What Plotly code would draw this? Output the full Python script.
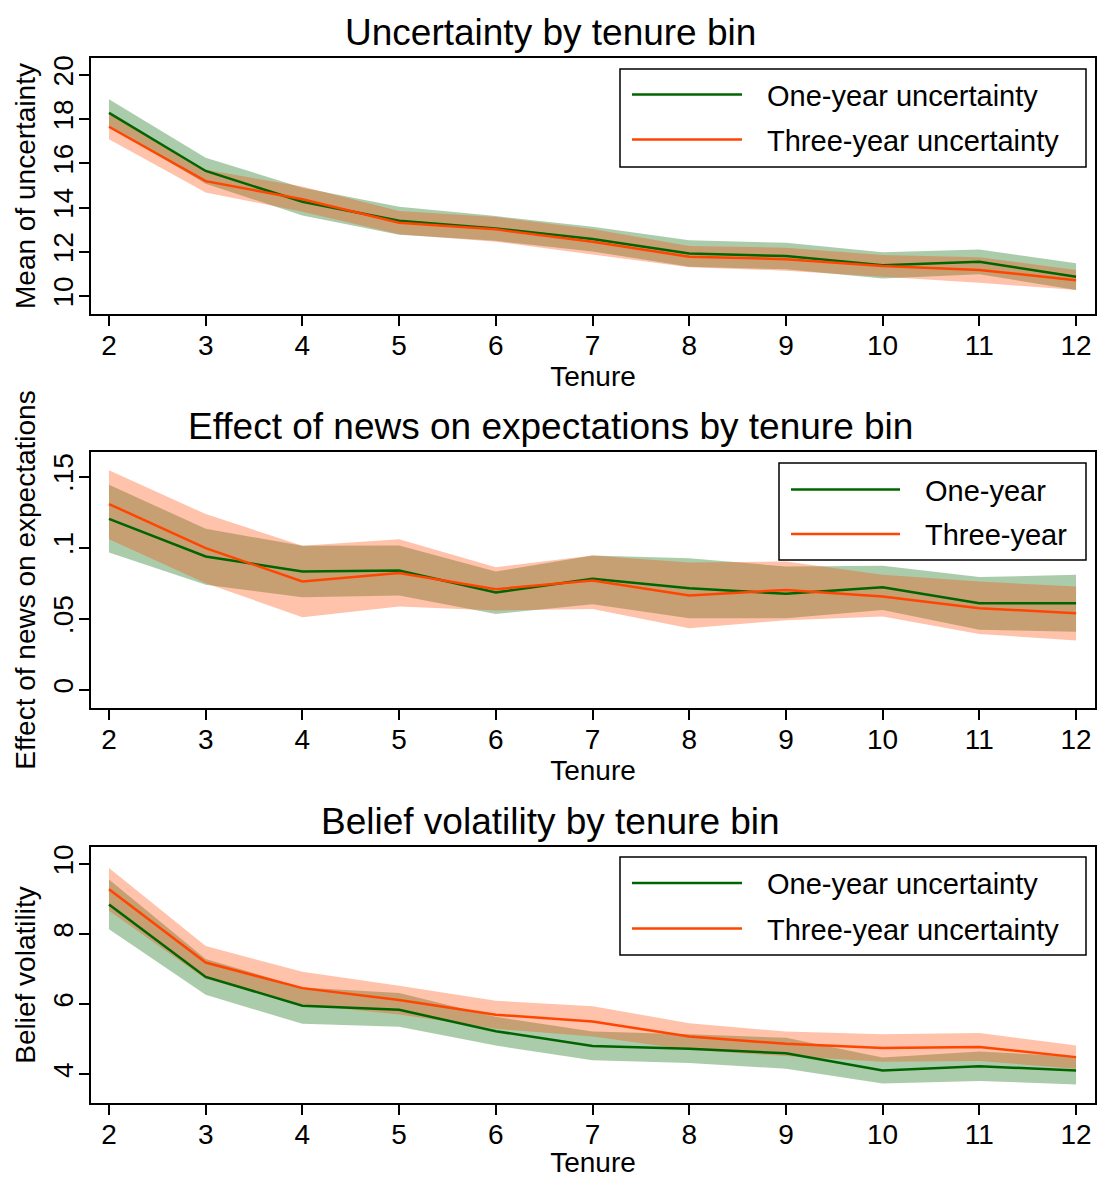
import plotly.graph_objects as go
from plotly.subplots import make_subplots

# ---------------- data ----------------
tenure = [2, 3, 4, 5, 6, 7, 8, 9, 10, 11, 12]

# Panel 1: mean of uncertainty
unc_one = [18.29, 15.66, 14.27, 13.41, 13.06, 12.58, 11.93, 11.81, 11.40, 11.55, 10.87]
unc_one_hi = [18.90, 16.26, 14.90, 14.04, 13.62, 13.14, 12.53, 12.41, 11.98, 12.11, 11.48]
unc_one_lo = [17.68, 15.08, 13.65, 12.78, 12.50, 12.02, 11.33, 11.21, 10.80, 10.99, 10.28]
unc_three = [17.66, 15.20, 14.38, 13.32, 13.02, 12.46, 11.78, 11.67, 11.36, 11.18, 10.72]
unc_three_hi = [18.23, 15.71, 14.96, 13.85, 13.58, 13.04, 12.27, 12.19, 11.86, 11.76, 11.18]
unc_three_lo = [17.09, 14.69, 13.82, 12.80, 12.46, 11.88, 11.30, 11.15, 10.87, 10.60, 10.27]

# Panel 2: effect of news on expectations
eff_one = [0.1204, 0.0939, 0.0833, 0.0840, 0.0685, 0.0782, 0.0716, 0.0676, 0.0723, 0.0610, 0.0610]
eff_one_hi = [0.1444, 0.1134, 0.1014, 0.1016, 0.0833, 0.0946, 0.0927, 0.0869, 0.0873, 0.0794, 0.0810]
eff_one_lo = [0.0967, 0.0740, 0.0653, 0.0664, 0.0535, 0.0603, 0.0505, 0.0505, 0.0563, 0.0423, 0.0410]
eff_three = [0.1308, 0.0998, 0.0763, 0.0822, 0.0709, 0.0770, 0.0664, 0.0704, 0.0657, 0.0575, 0.0540]
eff_three_hi = [0.1545, 0.1237, 0.1014, 0.1061, 0.0864, 0.0946, 0.0897, 0.0904, 0.0810, 0.0763, 0.0728]
eff_three_lo = [0.1060, 0.0751, 0.0512, 0.0587, 0.0559, 0.0570, 0.0434, 0.0490, 0.0516, 0.0394, 0.0347]

# Panel 3: belief volatility
vol_one = [8.85, 6.78, 5.96, 5.84, 5.23, 4.81, 4.73, 4.60, 4.11, 4.23, 4.11]
vol_one_hi = [9.56, 7.29, 6.48, 6.32, 5.64, 5.22, 5.14, 5.04, 4.48, 4.65, 4.51]
vol_one_lo = [8.14, 6.27, 5.44, 5.36, 4.82, 4.40, 4.32, 4.16, 3.74, 3.81, 3.71]
vol_three = [9.28, 7.19, 6.46, 6.12, 5.70, 5.51, 5.08, 4.87, 4.75, 4.78, 4.49]
vol_three_hi = [9.89, 7.66, 6.93, 6.53, 6.10, 5.94, 5.46, 5.22, 5.14, 5.18, 4.82]
vol_three_lo = [8.67, 6.72, 5.99, 5.71, 5.30, 5.08, 4.70, 4.52, 4.36, 4.38, 4.16]

x_ticks = [2, 3, 4, 5, 6, 7, 8, 9, 10, 11, 12]
unc_ticks = [10, 12, 14, 16, 18, 20]
eff_ticks = [0, 0.05, 0.1, 0.15]
eff_ticklabels = ["0", ".05", ".1", ".15"]
vol_ticks = [4, 6, 8, 10]

titles = ["Uncertainty by tenure bin",
          "Effect of news on expectations by tenure bin",
          "Belief volatility by tenure bin"]
ytitles = ["Mean of uncertainty", "Effect of news on expectations", "Belief volatility"]
legend_sets = [["One-year uncertainty", "Three-year uncertainty"],
               ["One-year", "Three-year"],
               ["One-year uncertainty", "Three-year uncertainty"]]

# ---------------- style ----------------
FONT = "Liberation Sans, Arial, Helvetica, sans-serif"
GREEN = "#006400"
ORANGE = "#FF4500"
GREEN_FILL = "rgba(0,100,0,0.33)"
ORANGE_FILL = "rgba(255,69,0,0.33)"

W, H = 1098, 1178
ML, MR, MT, MB = 91, 3, 58, 75
PW = W - ML - MR
PH = H - MT - MB


def px_x(p):
    return (p - ML) / PW


def px_y(p):
    return (H - MB - p) / PH


fig = make_subplots(rows=3, cols=1)

panels = [
    (unc_one, unc_one_hi, unc_one_lo, unc_three, unc_three_hi, unc_three_lo),
    (eff_one, eff_one_hi, eff_one_lo, eff_three, eff_three_hi, eff_three_lo),
    (vol_one, vol_one_hi, vol_one_lo, vol_three, vol_three_hi, vol_three_lo),
]

for i, (m1, h1, l1, m3, h3, l3) in enumerate(panels):
    r = i + 1
    poly_x = tenure + tenure[::-1]
    fig.add_trace(go.Scatter(x=poly_x, y=h1 + l1[::-1], fill="toself", fillcolor=GREEN_FILL,
                             line=dict(width=0), mode="lines", showlegend=False,
                             hoverinfo="skip"), row=r, col=1)
    fig.add_trace(go.Scatter(x=poly_x, y=h3 + l3[::-1], fill="toself", fillcolor=ORANGE_FILL,
                             line=dict(width=0), mode="lines", showlegend=False,
                             hoverinfo="skip"), row=r, col=1)
    fig.add_trace(go.Scatter(x=tenure, y=m1, mode="lines", line=dict(color=GREEN, width=2.5),
                             name=legend_sets[i][0], showlegend=False), row=r, col=1)
    fig.add_trace(go.Scatter(x=tenure, y=m3, mode="lines", line=dict(color=ORANGE, width=2.5),
                             name=legend_sets[i][1], showlegend=False), row=r, col=1)

# panel pixel geometry: (top, bottom)
panel_px = [(58, 314), (452, 708), (847, 1103)]
yranges = [[9.19, 20.77], [-0.0127, 0.1674], [3.18, 10.49]]
ytickvals = [unc_ticks, eff_ticks, vol_ticks]
yticktext = [[str(v) for v in unc_ticks], eff_ticklabels, [str(v) for v in vol_ticks]]

axis_common = dict(showline=True, linecolor="black", linewidth=2, mirror=True,
                   ticks="outside", ticklen=10, tickwidth=1.5, tickcolor="black",
                   showgrid=False, zeroline=False,
                   tickfont=dict(family=FONT, size=28, color="black"))

for i in range(3):
    top, bot = panel_px[i]
    suffix = "" if i == 0 else str(i + 1)
    fig.layout["xaxis" + suffix].update(
        domain=[0, 1], range=[1.814, 12.196], tickvals=x_ticks, ticklabelstandoff=-5,
        title=dict(text="Tenure", font=dict(family=FONT, size=28, color="black"), standoff=0),
        **axis_common)
    fig.layout["yaxis" + suffix].update(
        domain=[px_y(bot), px_y(top)], range=yranges[i],
        tickvals=ytickvals[i], ticktext=yticktext[i], tickangle=-90, ticklabelstandoff=-5,
        title=dict(text=ytitles[i], font=dict(family=FONT, size=28, color="black"), standoff=4),
        **axis_common)

annotations = []
shapes = []
for i in range(3):
    top, bot = panel_px[i]
    annotations.append(dict(text=titles[i], xref="paper", yref="paper",
                            x=px_x(550), y=px_y(top - 26), xanchor="center", yanchor="middle",
                            showarrow=False, font=dict(family=FONT, size=37, color="black")))

# manual legends (box, line samples, labels)
legend_geo = [
    dict(x0=620, x1=1086, y0=69, y1=167, lx0=632, lx1=742, ly=[94.5, 139.5], tx=765),
    dict(x0=779, x1=1086, y0=463, y1=560, lx0=791, lx1=900, ly=[489.5, 534], tx=923),
    dict(x0=620, x1=1086, y0=857, y1=955, lx0=632, lx1=742, ly=[883, 928.5], tx=765),
]
for i, g in enumerate(legend_geo):
    shapes.append(dict(type="rect", xref="paper", yref="paper",
                       x0=px_x(g["x0"]), x1=px_x(g["x1"]), y0=px_y(g["y1"]), y1=px_y(g["y0"]),
                       line=dict(color="black", width=1.5), fillcolor="white", layer="above"))
    for k, col in enumerate([GREEN, ORANGE]):
        shapes.append(dict(type="line", xref="paper", yref="paper",
                           x0=px_x(g["lx0"]), x1=px_x(g["lx1"]),
                           y0=px_y(g["ly"][k]), y1=px_y(g["ly"][k]),
                           line=dict(color=col, width=2.5), layer="above"))
        annotations.append(dict(text=legend_sets[i][k], xref="paper", yref="paper",
                                x=px_x(g["tx"]), y=px_y(g["ly"][k] + 1), xanchor="left",
                                yanchor="middle", showarrow=False,
                                font=dict(family=FONT, size=29, color="black")))

fig.update_layout(width=W, height=H, margin=dict(l=ML, r=MR, t=MT, b=MB, autoexpand=False),
                  plot_bgcolor="white", paper_bgcolor="white", showlegend=False,
                  annotations=annotations, shapes=shapes,
                  font=dict(family=FONT, size=28, color="black"))

fig.write_html("out.html", config={"displayModeBar": False},
               post_script="document.body.style.margin='0';document.body.style.overflow='hidden';")
